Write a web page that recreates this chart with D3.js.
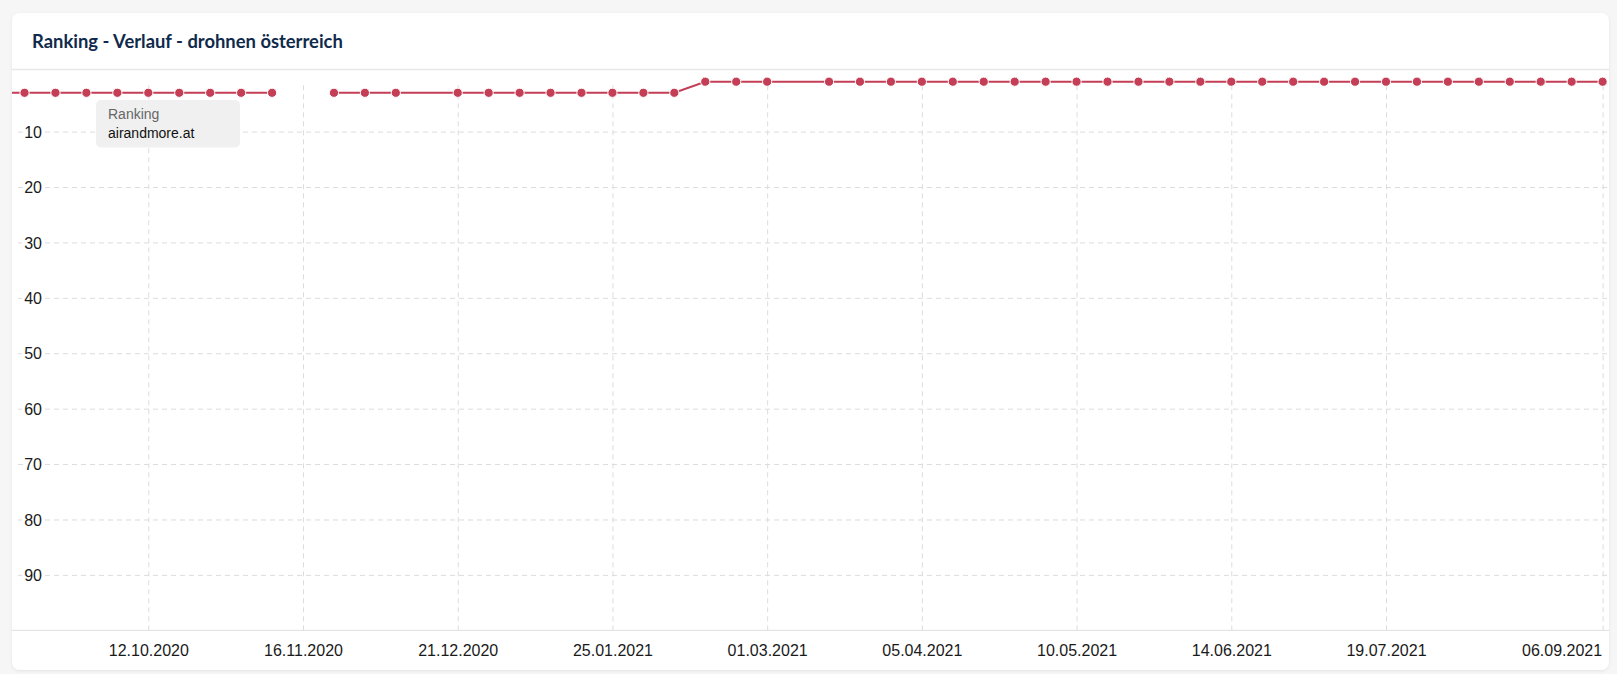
<!DOCTYPE html>
<html>
<head>
<meta charset="utf-8">
<script src="https://cdn.jsdelivr.net/npm/d3@7"></script>
<style>
  html, body { margin: 0; padding: 0; background: #f6f6f6; }
  svg { display: block; }
  .lbl { font-family: "Liberation Sans", Arial, sans-serif; font-size: 16px; fill: #1a1a1a; }
</style>
</head>
<body>
<svg id="chart" width="1617" height="674"></svg>
<script>
// ---- data ----
const title = "Ranking - Verlauf - drohnen österreich";
const weeks = [
  "2020-09-07","2020-09-14","2020-09-21","2020-09-28","2020-10-05","2020-10-12","2020-10-19","2020-10-26",
  "2020-11-02","2020-11-09","2020-11-16","2020-11-23","2020-11-30","2020-12-07","2020-12-21","2020-12-28",
  "2021-01-04","2021-01-11","2021-01-18","2021-01-25","2021-02-01","2021-02-08","2021-02-15","2021-02-22",
  "2021-03-01","2021-03-15","2021-03-22","2021-03-29","2021-04-05","2021-04-12","2021-04-19","2021-04-26",
  "2021-05-03","2021-05-10","2021-05-17","2021-05-24","2021-05-31","2021-06-07","2021-06-14","2021-06-21",
  "2021-06-28","2021-07-05","2021-07-12","2021-07-19","2021-07-26","2021-08-02","2021-08-09","2021-08-16",
  "2021-08-23","2021-08-30","2021-09-06","2021-09-13"
];
const ranks = [
  3,3,3,3,3,3,3,3,
  3,3,null,3,3,3,3,3,
  3,3,3,3,3,3,1,1,
  1,1,1,1,1,1,1,1,
  1,1,1,1,1,1,1,1,
  1,1,1,1,1,1,1,1,
  1,1,1,1
];
const xTicks = ["2020-10-12","2020-11-16","2020-12-21","2021-01-25","2021-03-01","2021-04-05",
                "2021-05-10","2021-06-14","2021-07-19","2021-09-06"];
const yTicks = [10,20,30,40,50,60,70,80,90];
const legendTitle = "Ranking";
const legendDomain = "airandmore.at";

// ---- layout ----
const card = {x: 12, y: 13, w: 1597, h: 657, r: 8};
const plot = {left: 12, right: 1607, top: 81.7, bottom: 630.3};
const color = "#c43e55";

const parse = d3.timeParse("%Y-%m-%d");
const fmt = d3.timeFormat("%d.%m.%Y");
const data = weeks.map((w, i) => ({date: parse(w), v: ranks[i]}));

const svg = d3.select("#chart");
const defs = svg.append("defs");
const f = defs.append("filter").attr("id", "sh").attr("x", "-5%").attr("y", "-5%").attr("width", "110%").attr("height", "110%");
f.append("feDropShadow").attr("dx", 0).attr("dy", 1).attr("stdDeviation", 1.5).attr("flood-color", "#000").attr("flood-opacity", 0.08);
defs.append("clipPath").attr("id", "clip").append("rect")
  .attr("x", plot.left).attr("y", plot.top - 8).attr("width", plot.right - plot.left).attr("height", plot.bottom - plot.top + 8);

svg.append("rect").attr("x", card.x).attr("y", card.y).attr("width", card.w).attr("height", card.h)
  .attr("rx", card.r).attr("fill", "#fff").attr("filter", "url(#sh)");

svg.append("text").attr("x", 32).attr("y", 48)
  .attr("font-family", "Lato, 'Open Sans', sans-serif").attr("font-weight", 700).attr("font-size", 18.4)
  .attr("fill", "#0f2a4c").text(title);

svg.append("line").attr("x1", card.x).attr("x2", card.x + card.w).attr("y1", 69.5).attr("y2", 69.5)
  .attr("stroke", "#e8e8e8").attr("stroke-width", 1.5);

// scales (anchored on two tick dates)
const x = d3.scaleTime().domain([parse("2020-10-12"), parse("2021-07-19")]).range([148.3, 1386]);
const y = d3.scaleLinear().domain([1, 100]).range([plot.top, plot.bottom]);

// horizontal grid
const gy = svg.append("g").attr("transform", `translate(18,0)`)
  .call(d3.axisLeft(y).tickValues(yTicks).tickSize(-(plot.right - 18)).tickFormat(""));
gy.select(".domain").remove();
gy.selectAll("line").attr("stroke", "#dcdcdc").attr("stroke-dasharray", "5,4");

// vertical grid
const gx = svg.append("g").attr("transform", `translate(0,${plot.bottom})`)
  .call(d3.axisBottom(x).tickValues(xTicks.map(parse)).tickSize(-(plot.bottom - plot.top)).tickFormat(""));
gx.select(".domain").remove();
gx.selectAll("line").attr("stroke", "#dcdcdc").attr("stroke-dasharray", "5,4");

// bottom axis line
svg.append("line").attr("x1", card.x).attr("x2", card.x + card.w).attr("y1", plot.bottom).attr("y2", plot.bottom)
  .attr("stroke", "#dedede").attr("stroke-width", 1);

// x labels
const xl = svg.append("g").attr("transform", `translate(0,${plot.bottom})`)
  .call(d3.axisBottom(x).tickValues(xTicks.map(parse)).tickSize(0).tickPadding(0).tickFormat(fmt));
xl.select(".domain").remove();
xl.selectAll("text").attr("class", "lbl").attr("dy", null).attr("y", 26)
  .attr("font-family", null).attr("font-size", null).attr("fill", null);
// last label kept inside the card: right-aligned on its tick
xl.selectAll(".tick").filter((d, i, n) => i === n.length - 1).select("text")
  .attr("text-anchor", "end").attr("x", -1);

// y labels
const yl = svg.append("g").attr("transform", `translate(42,0)`)
  .call(d3.axisLeft(y).tickValues(yTicks).tickSize(0).tickPadding(0));
yl.select(".domain").remove();
yl.selectAll("text").attr("class", "lbl").attr("x", 0).attr("dy", "0.35em")
  .attr("font-family", null).attr("font-size", null).attr("fill", null)
  .attr("stroke", "#fff").attr("stroke-width", 6).attr("paint-order", "stroke");

// series
const plotG = svg.append("g").attr("clip-path", "url(#clip)");
const line = d3.line().defined(d => d.v != null).x(d => x(d.date)).y(d => y(d.v));
plotG.append("path").datum(data).attr("d", line)
  .attr("fill", "none").attr("stroke", color).attr("stroke-width", 2);
plotG.selectAll("circle").data(data.filter(d => d.v != null)).join("circle")
  .attr("cx", d => x(d.date)).attr("cy", d => y(d.v)).attr("r", 4.6)
  .attr("fill", color).attr("stroke", "#fff").attr("stroke-width", 1);

// legend box
const lg = svg.append("g");
lg.append("rect").attr("x", 96).attr("y", 100).attr("width", 144).attr("height", 47.5).attr("rx", 5).attr("fill", "#f0f0f0");
lg.append("text").attr("x", 108).attr("y", 119).attr("font-family", "'Liberation Sans', Arial, sans-serif")
  .attr("font-size", 14).attr("fill", "#666").text(legendTitle);
lg.append("text").attr("x", 108).attr("y", 138).attr("font-family", "'Liberation Sans', Arial, sans-serif")
  .attr("font-size", 14).attr("fill", "#111").text(legendDomain);
</script>
</body>
</html>
